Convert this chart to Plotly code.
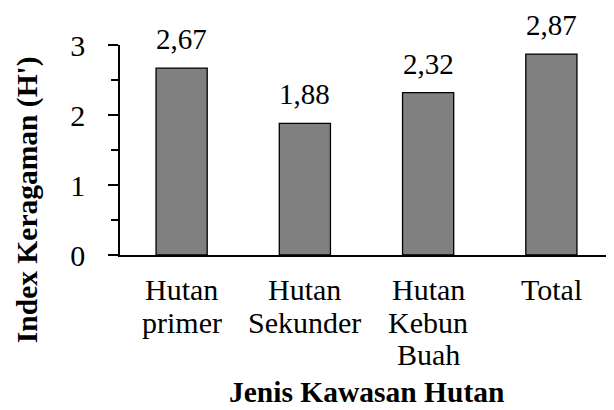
import plotly.graph_objects as go

categories = ["Hutan primer", "Hutan Sekunder", "Hutan Kebun Buah", "Total"]
category_lines = [["Hutan", "primer"], ["Hutan", "Sekunder"], ["Hutan", "Kebun", "Buah"], ["Total"]]
values = [2.67, 1.88, 2.32, 2.87]
y_ticks = [0, 1, 2, 3]

FONT = "Times New Roman, Liberation Serif, serif"
FS = 29

fig = go.Figure()
fig.add_trace(go.Bar(
    x=categories, y=values,
    marker=dict(color="#808080", line=dict(color="black", width=1.3)),
    cliponaxis=False,
))

annotations = [
    dict(x=c, y=v, xref="x", yref="y", text=f"{v:.2f}".replace(".", ","),
         showarrow=False, yanchor="bottom", yshift=11,
         font=dict(family=FONT, size=FS, color="black"))
    for c, v in zip(categories, values)
]
# category labels, one line each (tighter line spacing like the reference)
for c, lines in zip(categories, category_lines):
    for i, line in enumerate(lines):
        annotations.append(dict(
            x=c, y=0, xref="x", yref="paper", text=line,
            showarrow=False, yanchor="top", xanchor="center",
            yshift=-16 - 32.5 * i,
            font=dict(family=FONT, size=30, color="black"),
        ))
annotations.append(dict(
    text="<b>Index Keragaman (H')</b>", textangle=-90,
    xref="paper", yref="paper", x=-0.187, y=0.265,
    xanchor="center", yanchor="middle", showarrow=False,
    font=dict(family=FONT, size=29.5, color="black"),
))
annotations.append(dict(
    text="<b>Jenis Kawasan Hutan</b>",
    xref="paper", yref="paper", x=0.5, y=-0.652,
    xanchor="center", yanchor="middle", showarrow=False,
    font=dict(family=FONT, size=29.5, color="black"),
))

fig.update_layout(
    width=606, height=402,
    margin=dict(l=112, r=1, t=37, b=155),
    paper_bgcolor="white", plot_bgcolor="white",
    showlegend=False,
    bargap=0.585,
    font=dict(family=FONT, size=FS, color="black"),
    xaxis=dict(
        showline=True, linecolor="black", linewidth=1.5,
        ticks="", showticklabels=False,
    ),
    yaxis=dict(
        range=[0, 3], tickvals=y_ticks, showgrid=False, zeroline=False,
        showline=True, linecolor="black", linewidth=1.5,
        ticks="outside", ticklen=10, tickwidth=1.5, tickcolor="black",
        ticklabelstandoff=17,
        tickfont=dict(family=FONT, size=30, color="black"),
        minor=dict(dtick=0.5, ticks="outside", ticklen=7, tickwidth=1.5, tickcolor="black", showgrid=False),
    ),
    annotations=annotations,
)

fig.write_html("out.html")
